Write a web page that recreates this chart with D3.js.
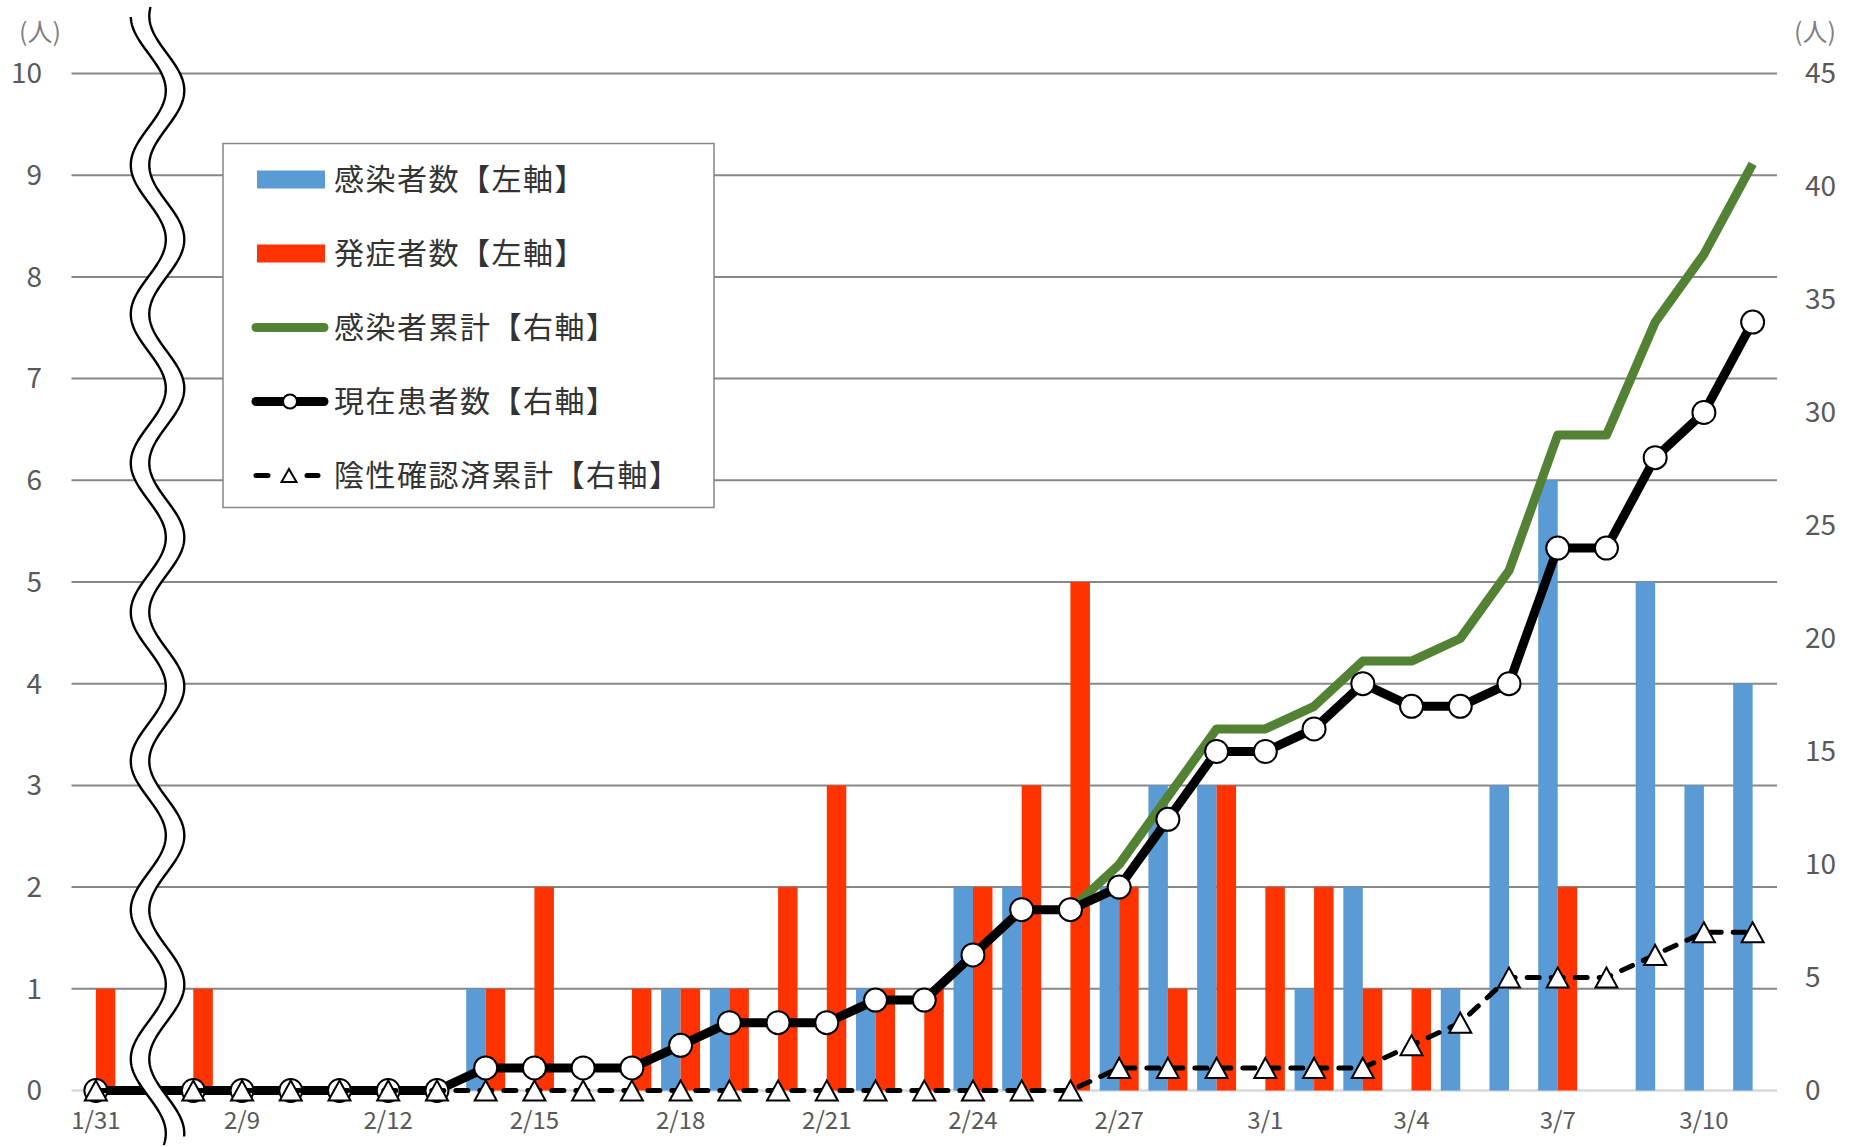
<!DOCTYPE html>
<html>
<head>
<meta charset="utf-8">
<script src="https://cdn.jsdelivr.net/npm/d3@7"></script>
<style>
  body { margin: 0; background: #fff; }
  svg { display: block; }
  text { font-family: "Noto Sans CJK JP", "Noto Sans", sans-serif; }
</style>
</head>
<body>
<svg id="chart" width="1861" height="1147"></svg>
<script>
// Categories (index 1 is the hidden slot under the break mark)
const dates = ["1/31", "", "2/8", "2/9", "2/10", "2/11", "2/12", "2/13", "2/14", "2/15",
  "2/16", "2/17", "2/18", "2/19", "2/20", "2/21", "2/22", "2/23", "2/24", "2/25",
  "2/26", "2/27", "2/28", "2/29", "3/1", "3/2", "3/3", "3/4", "3/5", "3/6",
  "3/7", "3/8", "3/9", "3/10", "3/11"];

// 感染者数 (left axis)
const infected = [0, null, 0, 0, 0, 0, 0, 0, 1, 0, 0, 0, 1, 1, 0, 0, 1, 0, 2, 2,
  0, 2, 3, 3, 0, 1, 2, 0, 1, 3, 6, 0, 5, 3, 4];
// 発症者数 (left axis)
const onset = [1, null, 1, 0, 0, 0, 0, 0, 1, 2, 0, 1, 1, 1, 2, 3, 1, 1, 2, 3,
  5, 2, 1, 3, 2, 2, 1, 1, 0, 0, 2, 0, 0, 0, 0];
// 感染者累計 (right axis)
const cumulative = [null, null, null, null, null, null, null, null, null, null,
  null, null, null, null, null, null, null, null, null, null,
  8, 10, 13, 16, 16, 17, 19, 19, 20, 23, 29, 29, 34, 37, 41];
// 現在患者数 (right axis)
const current = [0, null, 0, 0, 0, 0, 0, 0, 1, 1, 1, 1, 2, 3, 3, 3, 4, 4, 6, 8,
  8, 9, 12, 15, 15, 16, 18, 17, 17, 18, 24, 24, 28, 30, 34];
// 陰性確認済累計 (right axis)
const negative = [0, null, 0, 0, 0, 0, 0, 0, 0, 0, 0, 0, 0, 0, 0, 0, 0, 0, 0, 0,
  0, 1, 1, 1, 1, 1, 1, 2, 3, 5, 5, 5, 6, 7, 7];

const leftTicks = [0, 1, 2, 3, 4, 5, 6, 7, 8, 9, 10];
const rightTicks = [0, 5, 10, 15, 20, 25, 30, 35, 40, 45];

const legendItems = [
  { label: "感染者数【左軸】", type: "bar", color: "#5B9BD5" },
  { label: "発症者数【左軸】", type: "bar", color: "#FF3300" },
  { label: "感染者累計【右軸】", type: "line", color: "#548235" },
  { label: "現在患者数【右軸】", type: "circle", color: "#000" },
  { label: "陰性確認済累計【右軸】", type: "triangle", color: "#000" },
];

(function () {
  const svg = d3.select("#chart");
  const plotL = 71.5, plotR = 1777, plotT = 73.5, plotB = 1090.5;

  const x = d3.scaleBand().domain(d3.range(dates.length)).range([plotL, plotR]);
  const bw = x.bandwidth();
  const cx = (i) => x(i) + bw / 2;
  const yL = d3.scaleLinear().domain([0, 10]).range([plotB, plotT]);
  const yR = d3.scaleLinear().domain([0, 45]).range([plotB, plotT]);

  // Gridlines
  svg.append("g")
    .selectAll("line")
    .data(leftTicks)
    .join("line")
    .attr("x1", plotL)
    .attr("x2", plotR)
    .attr("y1", (d) => yL(d))
    .attr("y2", (d) => yL(d))
    .attr("stroke", (d) => (d === 0 ? "#d9d9d9" : "#878787"))
    .attr("stroke-width", (d) => (d === 0 ? 2.5 : 2));

  // Bars
  const barW = bw * 0.4;
  const bars = svg.append("g");
  bars.selectAll("rect.inf")
    .data(infected.map((v, i) => ({ v, i })).filter((d) => d.v))
    .join("rect")
    .attr("class", "inf")
    .attr("x", (d) => cx(d.i) - barW)
    .attr("width", barW)
    .attr("y", (d) => yL(d.v))
    .attr("height", (d) => yL(0) - yL(d.v))
    .attr("fill", "#5B9BD5");
  bars.selectAll("rect.ons")
    .data(onset.map((v, i) => ({ v, i })).filter((d) => d.v))
    .join("rect")
    .attr("class", "ons")
    .attr("x", (d) => cx(d.i))
    .attr("width", barW)
    .attr("y", (d) => yL(d.v))
    .attr("height", (d) => yL(0) - yL(d.v))
    .attr("fill", "#FF3300");

  const pts = (arr) => arr.map((v, i) => ({ v, i })).filter((d) => d.v !== null);
  const line = d3.line().x((d) => cx(d.i)).y((d) => yR(d.v));
  const triPath = (w, h) => `M0,${-h / 2}L${w / 2},${h / 2}L${-w / 2},${h / 2}Z`;

  // 感染者累計
  svg.append("path")
    .attr("d", line(pts(cumulative)))
    .attr("fill", "none")
    .attr("stroke", "#548235")
    .attr("stroke-width", 9)
    .attr("stroke-linejoin", "round");

  // 現在患者数
  svg.append("path")
    .attr("d", line(pts(current)))
    .attr("fill", "none")
    .attr("stroke", "#000")
    .attr("stroke-width", 9)
    .attr("stroke-linejoin", "round");
  svg.append("g")
    .selectAll("circle")
    .data(pts(current))
    .join("circle")
    .attr("cx", (d) => cx(d.i))
    .attr("cy", (d) => yR(d.v))
    .attr("r", 11.5)
    .attr("fill", "#fff")
    .attr("stroke", "#000")
    .attr("stroke-width", 2);

  // 陰性確認済累計
  svg.append("path")
    .attr("d", line(pts(negative)))
    .attr("fill", "none")
    .attr("stroke", "#000")
    .attr("stroke-width", 5)
    .attr("stroke-dasharray", "12,12")
    .attr("stroke-linecap", "round");
  svg.append("g")
    .selectAll("path")
    .data(pts(negative))
    .join("path")
    .attr("transform", (d) => `translate(${cx(d.i)},${yR(d.v)})`)
    .attr("d", triPath(22, 20))
    .attr("fill", "#fff")
    .attr("stroke", "#000")
    .attr("stroke-width", 2);

  // Axis break (wavy double line over the hidden category)
  const waveX = cx(1) + 3.7, amp = 17.5, period = 149, gapW = 18.5;
  const wx = (y) => waveX - amp * Math.cos((2 * Math.PI * (y - 16)) / period);
  const leftCurve = d3.range(17, 1145.5, 1.5).map((y) => [wx(y), y]);
  const rightCurve = d3.range(7, 1137.5, 1.5).map((y) => [wx(y) + gapW, y]);
  svg.append("path")
    .attr("d", "M" + leftCurve.join("L") + "L" + rightCurve.slice().reverse().join("L") + "Z")
    .attr("fill", "#fff");
  [leftCurve, rightCurve].forEach((c) => {
    svg.append("path")
      .attr("d", d3.line()(c))
      .attr("fill", "none")
      .attr("stroke", "#000")
      .attr("stroke-width", 2.4);
  });

  // Axis labels
  svg.append("g")
    .selectAll("text")
    .data(leftTicks)
    .join("text")
    .attr("x", 42)
    .attr("y", (d) => yL(d))
    .attr("dy", "0.35em")
    .attr("text-anchor", "end")
    .attr("font-size", 28)
    .attr("fill", "#595959")
    .text((d) => d);
  svg.append("g")
    .selectAll("text")
    .data(rightTicks)
    .join("text")
    .attr("x", 1805)
    .attr("y", (d) => yR(d))
    .attr("dy", "0.35em")
    .attr("font-size", 28)
    .attr("fill", "#595959")
    .text((d) => d);
  svg.append("g")
    .selectAll("text")
    .data(dates.map((d, i) => ({ d, i })).filter((d) => d.i % 3 === 0))
    .join("text")
    .attr("x", (d) => cx(d.i))
    .attr("y", 1121)
    .attr("dy", "0.35em")
    .attr("text-anchor", "middle")
    .attr("font-size", 24)
    .attr("fill", "#595959")
    .text((d) => d.d);

  // Unit labels
  [[40, "(人)"], [1815, "(人)"]].forEach(([ux, t]) => {
    svg.append("text")
      .attr("x", ux)
      .attr("y", 32)
      .attr("dy", "0.35em")
      .attr("text-anchor", "middle")
      .attr("font-size", 25)
      .attr("fill", "#7f7f7f")
      .text(t);
  });

  // Legend
  const lg = svg.append("g");
  lg.append("rect")
    .attr("x", 223)
    .attr("y", 143.5)
    .attr("width", 491)
    .attr("height", 364)
    .attr("fill", "#fff")
    .attr("stroke", "#878787")
    .attr("stroke-width", 1.5);
  const row = lg.selectAll("g")
    .data(legendItems)
    .join("g")
    .attr("transform", (d, i) => `translate(0,${179.5 + i * 74})`);
  row.filter((d) => d.type === "bar")
    .append("rect")
    .attr("x", 257)
    .attr("y", -9)
    .attr("width", 68)
    .attr("height", 18)
    .attr("fill", (d) => d.color);
  row.filter((d) => d.type === "line" || d.type === "circle")
    .append("line")
    .attr("x1", 256)
    .attr("x2", 324)
    .attr("stroke", (d) => d.color)
    .attr("stroke-width", 9)
    .attr("stroke-linecap", "round");
  row.filter((d) => d.type === "circle")
    .append("circle")
    .attr("cx", 290)
    .attr("r", 7)
    .attr("fill", "#fff")
    .attr("stroke", "#000")
    .attr("stroke-width", 2);
  const tri = row.filter((d) => d.type === "triangle");
  [[256, 268], [307, 318]].forEach(([a, b]) => {
    tri.append("line")
      .attr("x1", a)
      .attr("x2", b)
      .attr("stroke", "#000")
      .attr("stroke-width", 5)
      .attr("stroke-linecap", "round");
  });
  tri.append("path")
    .attr("transform", "translate(289,0)")
    .attr("d", triPath(15, 13))
    .attr("fill", "#fff")
    .attr("stroke", "#000")
    .attr("stroke-width", 2);
  row.append("text")
    .attr("x", 334)
    .attr("dy", "0.36em")
    .attr("font-size", 30)
    .attr("letter-spacing", 1.5)
    .attr("fill", "#333")
    .text((d) => d.label);
})();
</script>
</body>
</html>
